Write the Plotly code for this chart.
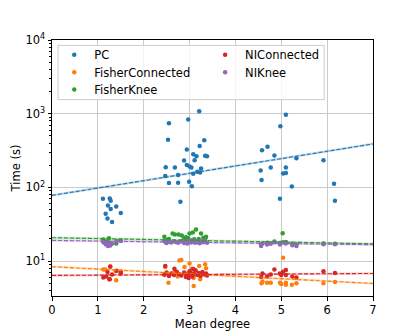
import plotly.graph_objects as go

# ---------------- data ----------------
pc_x = [1.11, 1.26, 1.28, 1.22, 1.40, 1.28, 1.17, 1.50, 1.21, 1.31,
        3.21, 2.55, 2.97, 2.53, 3.32, 2.94, 3.22, 3.08, 3.15, 3.34, 3.38, 3.11, 2.88, 2.94, 3.00,
        3.04, 2.48, 2.68, 3.25, 3.17, 3.23, 3.08, 2.75, 2.47, 2.55, 2.75, 2.99, 3.05, 2.80,
        5.10, 4.98, 4.70, 4.58, 4.85, 5.33, 5.92, 4.77, 5.10, 4.55, 5.04, 5.10, 4.57, 5.23, 4.97,
        6.15, 6.17]
pc_y = [70, 71, 66, 57, 55, 51, 44, 45, 38, 34,
        1084, 740, 837, 445, 437, 326, 366, 282, 265, 269, 265, 234, 232, 202, 192,
        186, 188, 186, 180, 163, 159, 153, 147, 143, 115, 116, 119, 104, 64,
        966, 675, 357, 320, 271, 249, 234, 186, 186, 170, 155, 157, 126, 103, 70,
        112, 66]

fc_x = [1.27, 1.12, 1.40, 1.16, 1.39,
        2.78, 2.82, 2.47, 2.89, 3.00, 3.05, 3.21, 3.34, 3.36, 3.27, 3.12, 2.74, 3.09, 3.23, 2.54,
        3.09, 2.45, 2.66, 2.95,
        4.57, 4.59, 4.69, 4.77, 4.97, 5.00, 5.04, 5.10, 5.10, 5.23, 5.33, 5.92, 6.17]
fc_y = [8.5, 7.7, 5.5, 7.7, 7.3,
        10.2, 10.4, 8.3, 8.3, 9.3, 7.9, 8.6, 9.1, 8.0, 6.8, 7.4, 6.2, 5.9, 5.7, 5.1,
        4.6, 6.5, 7.0, 6.8,
        5.0, 5.3, 5.1, 5.1, 5.1, 4.9, 11.1, 5.1, 4.8, 4.8, 5.0, 5.0, 5.2]

fk_x = [1.12, 1.24, 1.40, 1.50, 1.21, 1.27, 1.17,
        2.45, 2.50, 2.63, 2.68, 2.76, 2.83, 2.92, 3.00, 3.07, 3.14, 3.25, 3.30, 3.36, 3.34,
        2.55, 2.97, 3.20, 3.10, 2.88,
        4.56, 4.70, 4.85, 5.03, 5.10, 5.24, 5.33, 4.97, 5.92, 6.17]
fk_y = [19.7, 20.4, 17.4, 19.1, 18.2, 17.8, 18.5,
        21.4, 19.3, 23.7, 23.0, 23.0, 22.3, 21.1, 23.7, 24.5, 26.9, 23.7, 20.7, 21.4, 20.3,
        20.0, 20.5, 20.0, 19.8, 20.2,
        17.0, 17.8, 18.5, 23.9, 18.2, 17.2, 16.8, 17.6, 17.3, 17.2]

nc_x = [1.21, 1.12, 1.25, 1.31, 1.41, 1.50, 1.50, 1.27, 1.18, 1.26,
        2.47, 2.67, 2.45, 2.50, 2.55, 2.60, 2.66, 2.72, 2.77, 2.82, 2.88, 2.92, 2.97, 3.00,
        3.03, 3.06, 3.10, 3.13, 3.17, 3.20, 3.24, 3.28, 3.32, 3.36, 3.38, 2.98, 3.08,
        4.56, 4.59, 4.69, 4.77, 4.85, 4.97, 5.04, 5.10, 5.00, 5.10, 5.24, 5.33, 5.92, 6.17]
nc_y = [7.1, 6.0, 5.7, 6.6, 7.4, 7.2, 6.8, 8.4, 6.2, 5.7,
        8.6, 7.9, 6.6, 7.0, 6.3, 6.8, 6.5, 7.2, 6.7, 6.4, 7.0, 6.1, 6.6, 7.3,
        6.9, 6.2, 6.7, 7.5, 6.5, 6.9, 6.3, 7.1, 6.6, 6.8, 6.4, 5.9, 7.8,
        6.1, 6.8, 6.2, 6.6, 7.7, 6.8, 7.2, 7.6, 6.5, 6.5, 6.2, 6.0, 7.3, 6.9]

nk_x = [1.12, 1.21, 1.27, 1.24, 1.31, 1.41, 1.50, 1.17, 1.22,
        2.45, 2.48, 2.50, 2.55, 2.60, 2.66, 2.70, 2.75, 2.80, 2.85, 2.88, 2.92, 2.95, 2.99,
        3.03, 3.05, 3.08, 3.12, 3.15, 3.18, 3.22, 3.25, 3.30, 3.34, 3.38,
        4.56, 4.59, 4.69, 4.77, 4.85, 4.97, 5.00, 5.04, 5.10, 5.24, 5.33, 5.92, 6.17]
nk_y = [18.0, 17.4, 16.3, 16.8, 17.2, 18.7, 18.8, 17.0, 16.0,
        18.8, 18.0, 17.6, 18.3, 17.9, 18.6, 18.2, 17.8, 18.5, 18.9, 17.6, 18.1, 17.3, 18.7,
        17.9, 19.2, 18.4, 17.7, 18.8, 18.1, 17.5, 18.6, 18.0, 18.9, 17.8,
        16.0, 17.4, 16.8, 17.2, 18.1, 16.8, 17.8, 18.1, 17.4, 16.4, 16.0, 16.9, 16.9]

# trend lines (value at x=0 and x=7)
trend_x = [0, 7]
trend_pc = [78, 389]
trend_fc = [8.4, 4.97]
trend_fk = [20.8, 17.2]
trend_nc = [6.4, 6.8]
trend_nk = [19.1, 16.7]

series_names = ["PC", "FisherConnected", "FisherKnee", "NIConnected", "NIKnee"]
colors = ["#1f77b4", "#ff7f0e", "#2ca02c", "#d62728", "#9467bd"]

xs = [pc_x, fc_x, fk_x, nc_x, nk_x]
ys = [pc_y, fc_y, fk_y, nc_y, nk_y]
trends = [trend_pc, trend_fc, trend_fk, trend_nc, trend_nk]
legend_ids = ["legend", "legend2", "legend3", "legend4", "legend5"]
# legend slot positions (paper coords): two columns, three rows
leg_x = [0.007, 0.007, 0.007, 0.477, 0.477]
leg_y = [0.9423, 0.8745, 0.807, 0.9423, 0.8745]

fig = go.Figure()
for name, c, x, y, lg in zip(series_names, colors, xs, ys, legend_ids):
    fig.add_trace(go.Scatter(x=x, y=y, mode="markers", name=name, legend=lg,
                             marker=dict(color=c, size=4.5, line=dict(width=0))))
for c, t in zip(colors, trends):
    fig.add_trace(go.Scatter(x=trend_x, y=t, mode="lines", showlegend=False,
                             line=dict(color=c, width=2.2), opacity=0.3, hoverinfo="skip"))
    fig.add_trace(go.Scatter(x=trend_x, y=t, mode="lines", showlegend=False,
                             line=dict(color=c, width=1.1, dash="4px,2px"), hoverinfo="skip"))

font = dict(family="DejaVu Sans", size=11.5, color="black")
leg_layout = {}
for lid, lx, ly in zip(legend_ids, leg_x, leg_y):
    leg_layout[lid] = dict(x=lx, y=ly, xanchor="left", yanchor="middle", font=font,
                           bgcolor="rgba(0,0,0,0)", borderwidth=0, itemsizing="trace")

# page has an 8px body margin, so the figure is shrunk and margins reduced by 8px
fig.update_layout(
    width=407, height=324,
    margin=dict(l=44, r=42, t=32, b=36),
    paper_bgcolor="white", plot_bgcolor="white",
    font=font,
    shapes=[dict(type="rect", xref="paper", yref="paper", x0=0.019, x1=0.848,
                 y0=0.767, y1=0.979, line=dict(color="#cccccc", width=1),
                 fillcolor="rgba(255,255,255,0.8)", layer="above")],
    **leg_layout,
)
fig.update_xaxes(range=[0, 7], dtick=1, showgrid=True, gridcolor="#cbcbcb", gridwidth=0.8,
                 showline=True, linecolor="black", linewidth=1, mirror=True,
                 ticks="outside", ticklen=3.5, tickcolor="black", zeroline=False, automargin=False,
                 title=dict(text="Mean degree", font=font, standoff=1), tickfont=font)
fig.update_yaxes(type="log", range=[0.527, 4],
                 tickvals=[10, 100, 1000, 10000],
                 ticktext=["10<sup>1</sup>", "10<sup>2</sup>", "10<sup>3</sup>", "10<sup>4</sup>"],
                 showgrid=True, gridcolor="#cbcbcb", gridwidth=0.8,
                 showline=True, linecolor="black", linewidth=1, mirror=True,
                 ticks="outside", ticklen=3.5, tickcolor="black", zeroline=False, automargin=False,
                 minor=dict(ticks="outside", ticklen=2, tickcolor="black", showgrid=False,
                            tickvals=[v * m for m in [1, 10, 100, 1000] for v in range(2, 10)]),
                 title=dict(text="Time (s)", font=font, standoff=2), tickfont=font)

fig.write_html("out.html")
